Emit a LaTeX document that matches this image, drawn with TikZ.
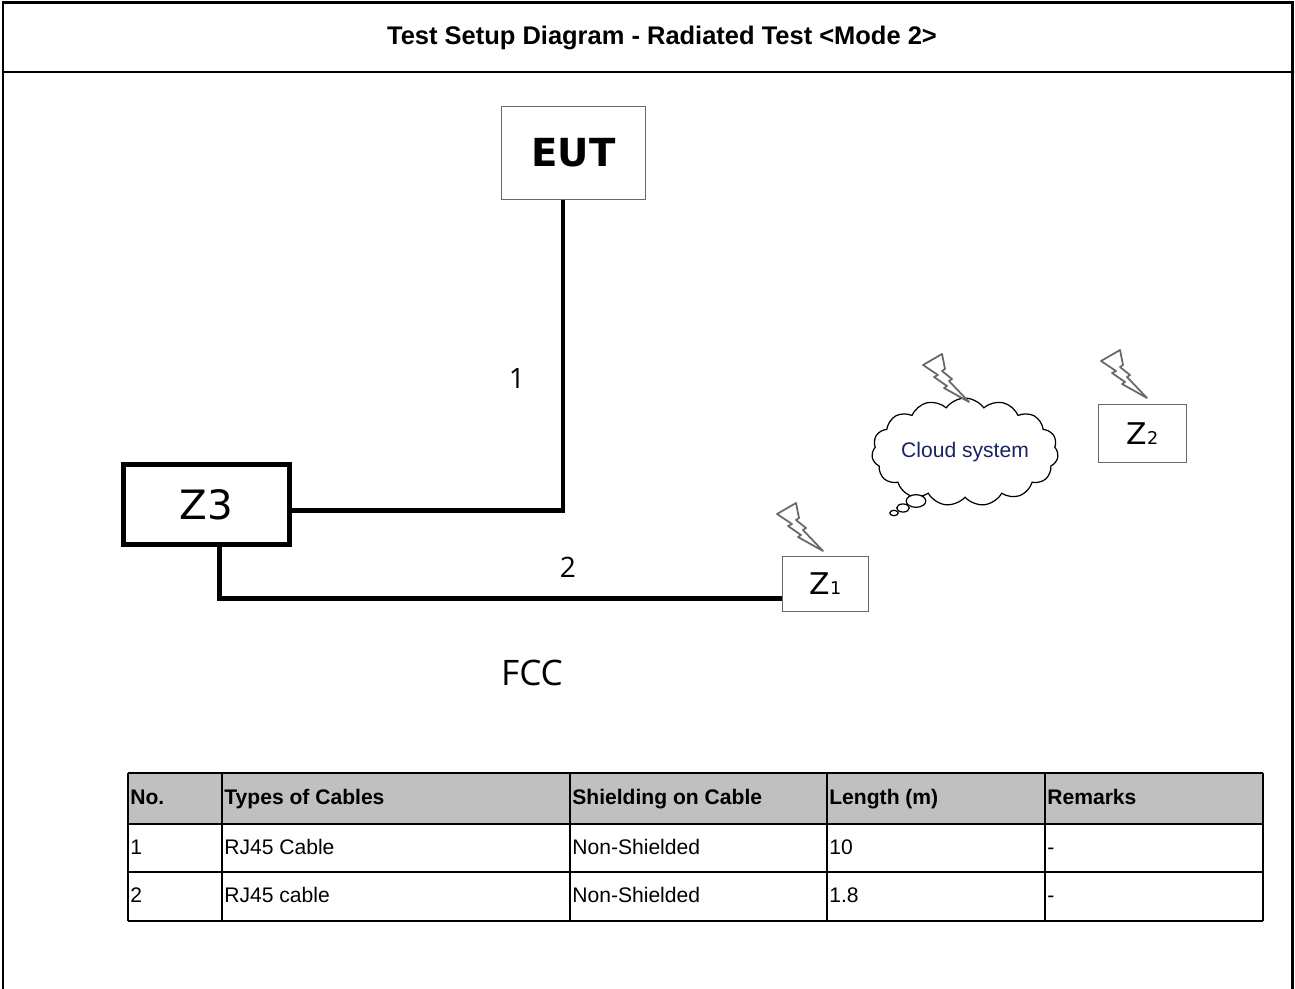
\documentclass[tikz,border=0pt]{standalone}
\usepackage{fontspec}
\setmainfont{Liberation Sans}
\newfontfamily\dejavu{DejaVu Sans}
\newfontfamily\segoe{Open Sans}
\usetikzlibrary{shapes.symbols,positioning}
\definecolor{boxgray}{RGB}{105,105,105}
\definecolor{hdrgray}{RGB}{192,192,192}
\definecolor{cloudtxt}{RGB}{25,35,95}

\tikzset{
	bolt/.pic={
		\draw[boxgray,line width=1pt,line join=round,fill=white]
			(0,11) -- (19,0) -- (22,15) -- (19,17) -- (29,25) -- (26,27) -- (46,48)
			-- (21,34) -- (24,32) -- (11,23) -- (15,21) -- cycle;
	}
}

\begin{document}
\begin{tikzpicture}[x=0.02cm,y=-0.02cm,
	frame/.style={line width=1.7pt},
	grid/.style={line width=1.1pt},
	cable/.style={line width=2.8pt},
	unitbox/.style={draw=boxgray,line width=1.1pt,inner sep=0pt},
	cell/.style={anchor=west,inner sep=0pt,text height=9pt,text depth=2.5pt,font=\fontsize{12}{14}\selectfont},
	hcell/.style={cell,font=\fontsize{12}{14}\selectfont\bfseries},
	num/.style={font=\segoe\fontsize{16}{18}\selectfont}]
	\useasboundingbox (0,0) rectangle (1295,989);
	% outer frame
	\draw[frame] (3,989) -- (3,3) -- (1292,3) -- (1292,989);
	\draw[frame] (3,72) -- (1292,72);
	\node (title) at (662,38) {\fontsize{14.5}{17}\selectfont\bfseries Test Setup Diagram - Radiated Test <Mode 2>};

	% units
	\node[unitbox,minimum width=2.88cm,minimum height=1.86cm] (eut) at (573.5,153)
		{\dejavu\fontsize{22}{26}\selectfont\bfseries EUT};
	\node[draw,line width=2.8pt,inner sep=0pt,minimum width=3.32cm,minimum height=1.6cm] (z3) at (206.5,504.5)
		{\dejavu\fontsize{23}{27}\selectfont Z3};
	\node[unitbox,minimum width=1.72cm,minimum height=1.1cm] (z1) at (825.5,584)
		{\dejavu\fontsize{17}{20}\selectfont Z\fontsize{10}{12}\selectfont 1};
	\node[unitbox,minimum width=1.76cm,minimum height=1.16cm] (z2) at (1142.5,433.5)
		{\dejavu\fontsize{17}{20}\selectfont Z\fontsize{10}{12}\selectfont 2};
	\node[cloud,draw,line width=0.7pt,cloud puffs=15,cloud puff arc=110,aspect=2,
		inner sep=0pt,minimum width=3.4cm,minimum height=1.7cm] (cloud) at (965,452)
		{\textcolor{cloudtxt}{\fontsize{12}{14}\selectfont Cloud system}};
	\foreach \x/\y/\r in {916/501/1.4, 903/508/0.9, 894/513/0.6}
		\draw[line width=0.7pt,fill=white] (\x,\y) ellipse [x radius=\r*7,y radius=\r*4.5];

	% radio links
	\pic at (777,503) {bolt};
	\pic at (923,354) {bolt};
	\pic at (1101,350) {bolt};

	% cables
	\draw[cable] ([xshift=-6pt]eut.south) |- ([yshift=-3.4pt]z3.east);
	\draw[cable] ([xshift=7.5pt]z3.south) |- ([yshift=-8pt]z1.west);
	\node[num] (n1) at (517,378) {1};
	\node[num] (n2) at (568,567) {2};
	\node[font=\segoe\fontsize{20}{24}\selectfont] (fcc) at (532,673) {FCC};

	% cable table
	\fill[hdrgray] (128,773) rectangle (1263,824);
	\foreach \y in {773,824,872,921}
		\draw[grid] (128,\y) -- (1263,\y);
	\foreach \x in {128,222,570,827,1045,1263}
		\draw[grid] (\x,773) -- (\x,921);
	\foreach \x/\t [count=\i] in {130/No.,224/Types of Cables,572/Shielding on Cable,829/Length (m),1047/Remarks}
		\node[hcell] (h\i) at (\x,799) {\t};
	\foreach \x/\t [count=\i] in {130/1,224/RJ45 Cable,572/Non-Shielded,829/10,1047/-}
		\node[cell] (a\i) at (\x,849) {\t};
	\foreach \x/\t [count=\i] in {130/2,224/RJ45 cable,572/Non-Shielded,829/1.8,1047/-}
		\node[cell] (b\i) at (\x,897) {\t};
\end{tikzpicture}
\end{document}
